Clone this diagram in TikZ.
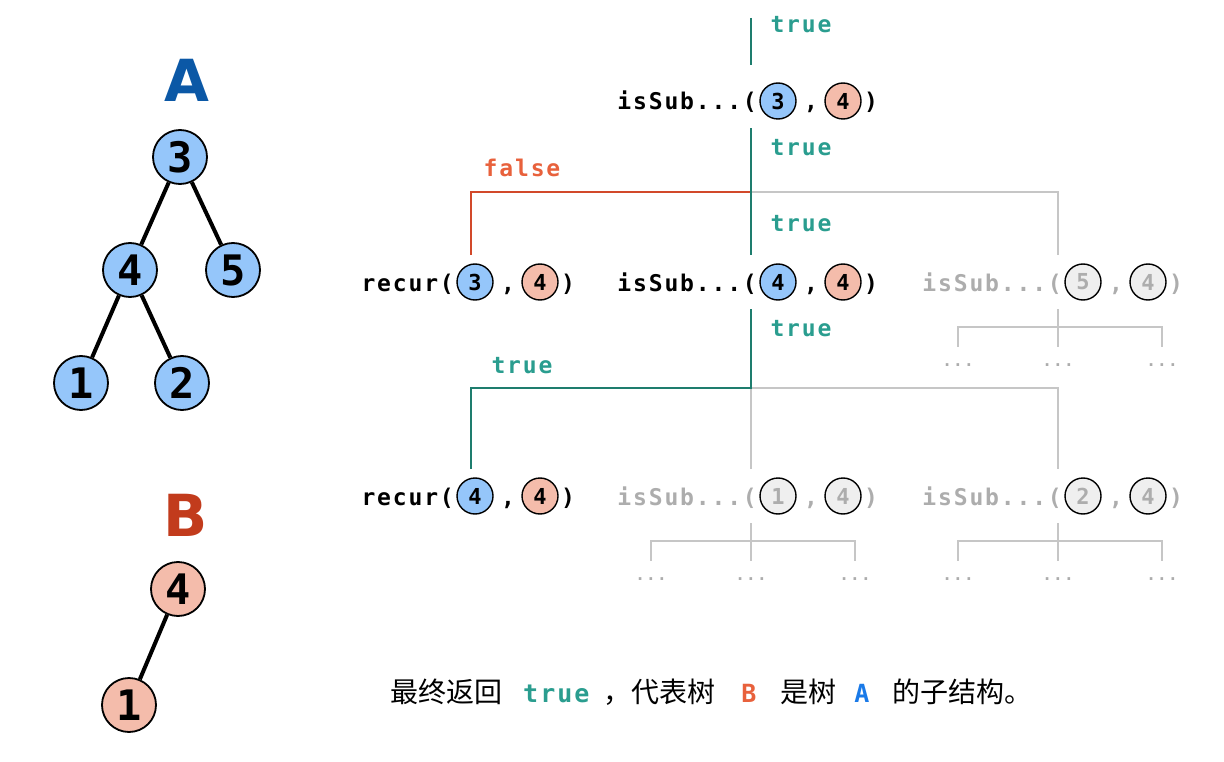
\documentclass[tikz,border=0pt]{standalone}
\usepackage{fontspec}
\newfontfamily\codefont{DejaVu Sans Mono}[LetterSpace=8]
\newfontfamily\digitfont{DejaVu Sans Mono}
\newfontfamily\titlefont{DejaVu Sans}
\newfontfamily\cjk{Noto Sans CJK SC}

\definecolor{treeblue}{HTML}{95C6FA}
\definecolor{treepink}{HTML}{F4BCAB}
\definecolor{deadfill}{HTML}{EFEFEF}
\definecolor{titleblue}{HTML}{0B58A6}
\definecolor{titlered}{HTML}{C23B1C}
\definecolor{yestext}{HTML}{2A9D8F}
\definecolor{yesdraw}{HTML}{1E7D6E}
\definecolor{notext}{HTML}{E8613C}
\definecolor{nodraw}{HTML}{D2492A}
\definecolor{deadtext}{HTML}{ADADAD}
\definecolor{deaddraw}{HTML}{C6C6C6}
\definecolor{noteblue}{HTML}{1A7AE8}

\tikzset{
  title/.style={font=\titlefont\bfseries\fontsize{58}{60}\selectfont},
  anode/.style={circle, draw=black, line width=1.8pt, fill=treeblue, minimum size=54pt, inner sep=0pt,
    font=\digitfont\bfseries\fontsize{42}{42}\selectfont},
  bnode/.style={anode, fill=treepink},
  edge/.style={line width=4pt},
  % pieces of one call
  hub/.style={minimum height=54pt, minimum width=0pt, inner sep=0pt},
  arg/.style={circle, draw=black, line width=1.4pt, minimum size=36pt, inner sep=0pt,
    font=\digitfont\bfseries\fontsize{22}{22}\selectfont},
  liveA/.style={arg, fill=treeblue},
  liveB/.style={arg, fill=treepink},
  deadA/.style={arg, fill=deadfill, text=deadtext},
  deadB/.style={arg, fill=deadfill, text=deadtext},
  livetext/.style={inner sep=0pt, font=\codefont\bfseries\fontsize{23}{26}\selectfont},
  deadtext/.style={livetext, text=deadtext},
  yeslabel/.style={livetext, text=yestext},
  nolabel/.style={livetext, text=notext},
  dots/.style={minimum height=36pt, inner sep=0pt, text=deadtext, font=\codefont\bfseries\fontsize{16}{16}\selectfont},
  yesline/.style={draw=yesdraw, line width=2.5pt},
  noline/.style={draw=nodraw, line width=2.2pt},
  deadline/.style={draw=deaddraw, line width=2pt},
}

% #1 name, #2 hub x, #3 y, #4 first arg x, #5 text, #6 arg a, #7 arg b, #8 live/dead
\newcommand\callrow[8]{%
  \node[hub] (#1) at (#2,#3) {};
  \node[#8A] (#1-a) at (#4,#3) {#6};
  \node[#8B] (#1-b) at (#4+65,#3) {#7};
  \node[#8text, anchor=base east] (#1-f) at (#4-21,#3+9) {#5};
  \node[#8text, anchor=base] (#1-c) at (#4+33,#3+9) {,};
  \node[#8text, anchor=base west] (#1-p) at (#4+86,#3+9) {)};
}

\begin{document}
\begin{tikzpicture}[x=1pt,y=-1pt]
\useasboundingbox (0,0) rectangle (1224,762);

% Tree A
\node[title, text=titleblue] (ta) at (187,80) {A};
\node[anode] (a3) at (180,157) {3};
\node[anode] (a4) at (130,270) {4};
\node[anode] (a5) at (233,270) {5};
\node[anode] (a1) at (81,383) {1};
\node[anode] (a2) at (182,383) {2};
\draw[edge] (a3) -- (a4);
\draw[edge] (a3) -- (a5);
\draw[edge] (a4) -- (a1);
\draw[edge] (a4) -- (a2);

% Tree B
\node[title, text=titlered] (tb) at (186,515) {B};
\node[bnode] (b4) at (178,589) {4};
\node[bnode] (b1) at (129,705) {1};
\draw[edge] (b4) -- (b1);

% Calls
\callrow{s34}{751}{101}{778}{isSub...(}{3}{4}{live}
\callrow{r34}{471}{282}{475}{recur(}{3}{4}{live}
\callrow{s44}{751}{282}{778}{isSub...(}{4}{4}{live}
\callrow{s54}{1058}{282}{1083}{isSub...(}{5}{4}{dead}
\callrow{r44}{471}{496}{475}{recur(}{4}{4}{live}
\callrow{s14}{751}{496}{778}{isSub...(}{1}{4}{dead}
\callrow{s24}{1058}{496}{1083}{isSub...(}{2}{4}{dead}

\coordinate (in) at (751,18);
\coordinate (j1) at (751,192);
\coordinate (j2) at (751,388);

% Grey branches
\draw[deadline] (j1) -| (s54.north);
\draw[deadline] (j2) -- (s14.north);
\draw[deadline] (j2) -| (s24.north);
\foreach \n in {s54,s14,s24} {
  \coordinate (\n-bar) at ([yshift=-45]\n.center);
  \node[dots] (\n-l) at ([xshift=-100,yshift=-83]\n.center) {...};
  \node[dots] (\n-m) at ([yshift=-83]\n.center) {...};
  \node[dots] (\n-r) at ([xshift=104,yshift=-83]\n.center) {...};
  \draw[deadline] (\n.south) -- (\n-m.north);
  \draw[deadline] (\n-l.north) |- (\n-bar) -| (\n-r.north);
}

% Taken branches
\draw[noline] (j1) -| (r34.north);
\draw[yesline] (in) -- ([yshift=9]s34.north);
\draw[yesline] (s34.south) -- (j1) -- (s44.north);
\draw[yesline] (s44.south) -- (j2) -| (r44.north);

% Results
\node[yeslabel] (l1) at (801,25) {true};
\node[yeslabel] (l2) at (801,148) {true};
\node[nolabel] (l3) at (522,168) {false};
\node[yeslabel] (l4) at (801,224) {true};
\node[yeslabel] (l5) at (801,329) {true};
\node[yeslabel] (l6) at (522,366) {true};

% Note
\node[anchor=west, inner sep=0pt, font=\cjk\fontsize{28}{32}\selectfont] (note) at (390,692)
  {最终返回\hspace{21pt}{\codefont\bfseries\fontsize{25}{28}\selectfont\color{yestext}true}\hspace{14pt}，代表树\hspace{26pt}{\codefont\bfseries\fontsize{25}{28}\selectfont\color{notext}B}\hspace{24pt}是树\hspace{18pt}{\codefont\bfseries\fontsize{25}{28}\selectfont\color{noteblue}A}\hspace{23pt}的子结构。};
\end{tikzpicture}
\end{document}
